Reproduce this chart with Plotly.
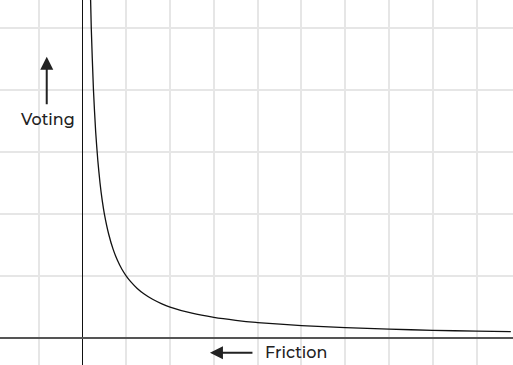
import plotly.graph_objects as go

# Curve points (grid units)
friction = [0.17, 0.2, 0.25, 0.3, 0.35, 0.4, 0.45, 0.5, 0.6, 0.7, 0.8, 0.9, 1.0, 1.1,
            1.25, 1.4, 1.6, 1.8, 2.0, 2.5, 3.0, 3.5, 4.0, 5.0, 6.0, 7.0, 8.0, 9.0, 9.78]
voting = [5.9, 5.0, 4.0, 3.33, 2.86, 2.5, 2.22, 2.0, 1.67, 1.43, 1.25, 1.11, 1.0, 0.91,
          0.8, 0.714, 0.625, 0.556, 0.5, 0.4, 0.333, 0.286, 0.25, 0.2, 0.167, 0.143,
          0.125, 0.111, 0.102]

x_label = "Friction"
y_label = "Voting"

fig = go.Figure()
fig.add_trace(go.Scatter(x=friction, y=voting, mode="lines",
                         line=dict(color="#111111", width=1.3, shape="spline", smoothing=0.6),
                         hoverinfo="skip", showlegend=False))

fig.update_layout(
    width=513, height=365,
    margin=dict(l=0, r=0, t=0, b=0),
    paper_bgcolor="white", plot_bgcolor="white",
    font=dict(family="Montserrat, Noto Sans, sans-serif", color="#222222", size=16, weight=500),
    xaxis=dict(range=[-1.884, 9.83], dtick=1, tick0=0, showgrid=True,
               gridcolor="#e6e6e6", gridwidth=2, zeroline=True,
               zerolinecolor="#111111", zerolinewidth=1.3,
               showticklabels=False, ticks="", fixedrange=True),
    yaxis=dict(range=[-0.435, 5.452], dtick=1, tick0=0, showgrid=True,
               gridcolor="#e6e6e6", gridwidth=2, zeroline=True,
               zerolinecolor="#555555", zerolinewidth=2,
               showticklabels=False, ticks="", fixedrange=True),
    annotations=[
        dict(x=2.91, y=-0.237, xref="x", yref="y", text="", showarrow=True,
             ax=44, ay=0, arrowhead=2, arrowsize=1.3, arrowwidth=2, arrowcolor="#222222"),
        dict(x=4.874, y=-0.23, xref="x", yref="y", text=x_label, showarrow=False,
             font=dict(size=16, weight=500)),
        dict(x=-0.817, y=4.537, xref="x", yref="y", text="", showarrow=True,
             ax=0, ay=49, arrowhead=2, arrowsize=1.3, arrowwidth=2, arrowcolor="#222222"),
        dict(x=-0.81, y=3.53, xref="x", yref="y", text=y_label, showarrow=False,
             font=dict(size=16, weight=500)),
    ],
)

fig.write_html("out.html")
